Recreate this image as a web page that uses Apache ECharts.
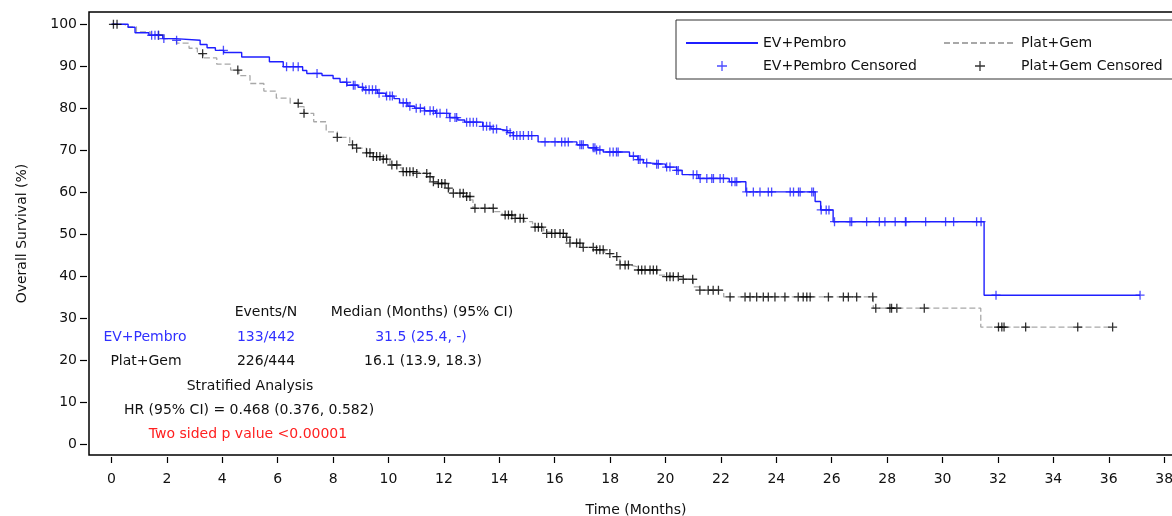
<!DOCTYPE html>
<html>
<head>
<meta charset="utf-8">
<script src="https://cdn.jsdelivr.net/npm/echarts@6/dist/echarts.min.js"></script>
<style>html,body{margin:0;padding:0;background:#fff}#c{width:1172px;height:516px}</style>
</head>
<body>
<div id="c"></div>
<script>
// ---- data ----
const xTicks = [0,2,4,6,8,10,12,14,16,18,20,22,24,26,28,30,32,34,36,38];
const yTicks = [0,10,20,30,40,50,60,70,80,90,100];

// Kaplan-Meier steps: [time (months), survival (%) after the step]
const evPembroSteps = [
  [0,100],[0.6,99.3],[0.85,98.0],[1.35,97.4],[1.85,96.6],[2.3,96.2],[3.2,95.2],[3.45,94.4],
  [3.75,93.8],[4.05,93.3],[4.7,92.2],[5.7,91.1],[6.2,89.9],[6.9,89.0],[7.05,88.3],[7.6,87.8],
  [8.0,87.1],[8.25,86.2],[8.5,85.5],[8.9,85.0],[9.1,84.4],[9.6,83.6],[9.9,82.9],[10.2,82.3],
  [10.4,81.3],[10.7,80.5],[10.95,80.0],[11.3,79.4],[11.7,78.8],[12.2,77.8],[12.5,77.2],
  [12.75,76.7],[13.4,75.7],[13.7,75.1],[13.95,74.7],[14.3,74.2],[14.5,73.5],[15.4,72.0],
  [16.8,71.3],[17.2,70.6],[17.5,70.1],[17.75,69.6],[18.7,68.6],[19.0,67.8],[19.2,67.0],
  [19.35,66.7],[20.0,66.0],[20.4,65.2],[20.6,64.2],[21.2,63.3],[22.3,62.5],[22.9,60.1],
  [25.4,57.8],[25.6,55.8],[26.05,53.0],[31.5,35.5],[37.13,35.5]
];
const platGemSteps = [
  [0,100],[0.5,99.4],[0.9,98.2],[1.4,97.4],[1.9,96.6],[2.35,95.5],[2.8,94.3],[3.1,93.0],
  [3.3,92.0],[3.8,90.5],[4.3,89.1],[4.6,87.8],[5.0,85.9],[5.5,84.1],[5.95,82.4],[6.45,81.2],
  [6.75,80.4],[6.95,78.8],[7.3,76.8],[7.75,74.4],[8.15,73.1],[8.6,71.3],[8.85,70.5],[9.2,69.4],
  [9.45,68.5],[9.7,67.9],[10.05,66.5],[10.4,65.8],[10.5,64.9],[11.0,64.5],[11.4,63.7],
  [11.6,62.5],[11.75,62.1],[12.1,61.0],[12.2,59.8],[12.8,59.0],[12.95,58.2],[13.05,56.2],
  [13.8,55.4],[14.1,54.6],[14.5,53.8],[14.9,53.0],[15.2,51.7],[15.6,50.6],[15.7,50.2],
  [16.4,49.3],[16.55,47.9],[17.0,46.9],[17.4,46.3],[17.8,45.4],[18.1,44.7],[18.35,42.7],
  [18.7,42.3],[18.96,41.5],[19.7,40.3],[19.9,39.9],[20.6,39.3],[21.0,37.5],[21.2,36.7],
  [22.1,35.1],[27.5,32.4],[31.38,27.9],[36.14,27.9]
];

// censoring times (months)
const evPembroCensorTimes = [
  1.45,1.57,1.69,1.89,2.35,4.04,6.32,6.56,6.74,7.42,8.49,8.73,8.79,9.06,9.18,9.3,9.42,9.54,9.66,
  9.93,10.05,10.14,10.53,10.65,10.77,11.0,11.15,11.3,
  11.50,11.62,11.74,11.86,12.10,12.22,12.40,12.46,12.82,12.94,13.06,13.18,13.42,13.54,13.66,
  13.78,13.90,14.27,14.39,14.51,14.63,14.75,14.87,15.05,15.17,15.65,16.01,16.25,16.37,16.49,
  16.91,16.97,17.03,17.39,17.45,17.51,17.63,17.99,18.11,18.23,18.29,18.84,19.02,19.08,19.32,
  19.68,19.74,20.04,20.16,20.40,20.46,21.00,21.13,21.25,21.49,21.67,21.73,21.97,22.09,22.39,
  22.51,22.57,22.93,23.17,23.41,23.71,23.83,24.50,24.62,24.80,24.86,25.28,25.34,
  25.62,25.8,25.9,26.1,26.66,26.72,27.26,27.72,27.92,28.29,28.66,28.68,29.39,30.11,30.40,
  31.23,31.39,31.93,37.13
];
const platGemCensorTimes = [
  0.07,0.2,1.7,3.29,4.56,6.74,6.95,8.15,8.7,8.85,9.21,9.33,9.45,9.57,
  9.69,9.81,9.93,10.12,10.30,10.53,10.65,10.77,10.89,11.02,11.38,11.50,11.62,11.80,11.92,12.04,
  12.16,12.34,12.58,12.70,12.82,12.94,13.12,13.48,13.78,14.21,14.33,14.45,14.57,14.75,14.87,
  15.29,15.41,15.53,15.71,15.89,16.01,16.19,16.31,16.43,16.55,16.79,16.91,17.03,17.39,17.51,
  17.63,17.75,17.99,18.24,18.36,18.54,18.66,19.02,19.14,19.26,19.44,19.56,19.68,20.04,20.16,
  20.28,20.46,20.64,20.98,21.24,21.54,21.72,21.91,
  22.33,22.87,23.05,23.29,23.53,23.71,23.95,24.31,24.79,24.97,25.10,25.22,25.88,26.42,26.60,
  26.90,27.48,27.59,28.10,28.16,28.35,29.34,32.02,32.14,32.22,33.0,34.88,36.14
];

// ---- helpers ----
function survAt(steps, t) {
  let v = steps[0][1];
  for (const p of steps) { if (p[0] <= t) v = p[1]; else break; }
  return v;
}
const evCens = evPembroCensorTimes.map(t => [t, survAt(evPembroSteps, t)]);
const pgCens = platGemCensorTimes.map(t => [t, survAt(platGemSteps, t)]);

const FONT = 'DejaVu Sans';
const BLUE = '#1f1fff';
const plus = 'path://M5,0L5,10M0,5L10,5';
const hidden = {color: 'rgba(0,0,0,0)', borderColor: 'rgba(0,0,0,0)', borderWidth: 0};

const chart = echarts.init(document.getElementById('c'), null, {renderer: 'canvas'});
function txt(x, y, s, color) {
  return {type: 'text', x: x, y: y, z: 10,
    style: {text: s, align: 'center', verticalAlign: 'middle', font: '14px "' + FONT + '"', fill: color || '#111'}};
}
const legendCommon = {
  orient: 'vertical', top: 20, itemGap: 9, itemWidth: 72, itemHeight: 10,
  textStyle: {fontSize: 14, color: '#111', fontFamily: FONT}
};
chart.setOption({
  animation: false,
  textStyle: {fontFamily: FONT},
  grid: {left: 89, top: 12, width: 1094, height: 443, show: true, borderColor: '#000', borderWidth: 1.5,
    containLabel: false, outerBoundsMode: 'none'},
  legend: [
    Object.assign({}, legendCommon, {
      left: 676, padding: [16, 0, 0, 9],
      data: [
        {name: 'EV+Pembro', itemStyle: hidden},
        {name: 'EV+Pembro Censored', itemStyle: {color: 'transparent', borderColor: BLUE, borderWidth: 1.3}}
      ]
    }),
    Object.assign({}, legendCommon, {
      left: 943, padding: [16, 0, 0, 0],
      data: [
        {name: 'Plat+Gem', itemStyle: hidden},
        {name: 'Plat+Gem Censored', itemStyle: {color: 'transparent', borderColor: '#000', borderWidth: 1.3}}
      ]
    })
  ],
  xAxis: {
    type: 'value', min: -0.812, max: 38.68, offset: 2,
    axisLine: {show: false, onZero: false},
    axisTick: {show: true, length: 6, customValues: xTicks, lineStyle: {color: '#000', width: 1.2}},
    axisLabel: {customValues: xTicks, margin: 15, fontSize: 14, color: '#111', fontFamily: FONT},
    splitLine: {show: false},
    name: 'Time (Months)', nameLocation: 'middle', nameGap: 46,
    nameTextStyle: {fontSize: 14, color: '#111', fontFamily: FONT}
  },
  yAxis: {
    type: 'value', min: -2.55, max: 102.93, offset: 2,
    axisLine: {show: false, onZero: false},
    axisTick: {show: true, length: 7, customValues: yTicks, lineStyle: {color: '#000', width: 1.2}},
    axisLabel: {customValues: yTicks, margin: 10, fontSize: 14, color: '#111', fontFamily: FONT},
    splitLine: {show: false},
    name: 'Overall Survival (%)', nameLocation: 'middle', nameGap: 58,
    nameTextStyle: {fontSize: 14, color: '#111', fontFamily: FONT}
  },
  series: [
    {name: 'Plat+Gem', type: 'line', step: 'end', data: platGemSteps, symbol: 'none',
      lineStyle: {color: '#a8a8a8', width: 1.3, type: [6, 3]}, itemStyle: {color: '#a8a8a8'}, z: 2},
    {name: 'EV+Pembro', type: 'line', step: 'end', data: evPembroSteps, symbol: 'none',
      lineStyle: {color: BLUE, width: 1.4}, itemStyle: {color: BLUE}, z: 3},
    {name: 'Plat+Gem Censored', type: 'scatter', data: pgCens, symbol: plus, symbolSize: 9,
      symbolKeepAspect: true,
      itemStyle: {color: 'transparent', borderColor: '#000', borderWidth: 1.3}, z: 4},
    {name: 'EV+Pembro Censored', type: 'scatter', data: evCens, symbol: plus, symbolSize: 9,
      symbolKeepAspect: true,
      itemStyle: {color: 'transparent', borderColor: BLUE, borderWidth: 1.3}, z: 5}
  ],
  graphic: [
    {type: 'rect', shape: {x: 676, y: 20, width: 540, height: 59}, z: 1,
      style: {fill: 'none', stroke: '#333', lineWidth: 1}},
    txt(266, 312, 'Events/N'),
    txt(422, 312, 'Median (Months) (95% CI)'),
    txt(145, 337, 'EV+Pembro', '#3030ff'),
    txt(266, 337, '133/442', '#3030ff'),
    txt(421, 337, '31.5 (25.4, -)', '#3030ff'),
    txt(146, 361, 'Plat+Gem'),
    txt(266, 361, '226/444'),
    txt(423, 361, '16.1 (13.9, 18.3)'),
    txt(250, 386, 'Stratified Analysis'),
    txt(249, 410, 'HR (95% CI) = 0.468 (0.376, 0.582)'),
    txt(248, 434, 'Two sided p value <0.00001', '#ff2020')
  ]
});
</script>
</body>
</html>
